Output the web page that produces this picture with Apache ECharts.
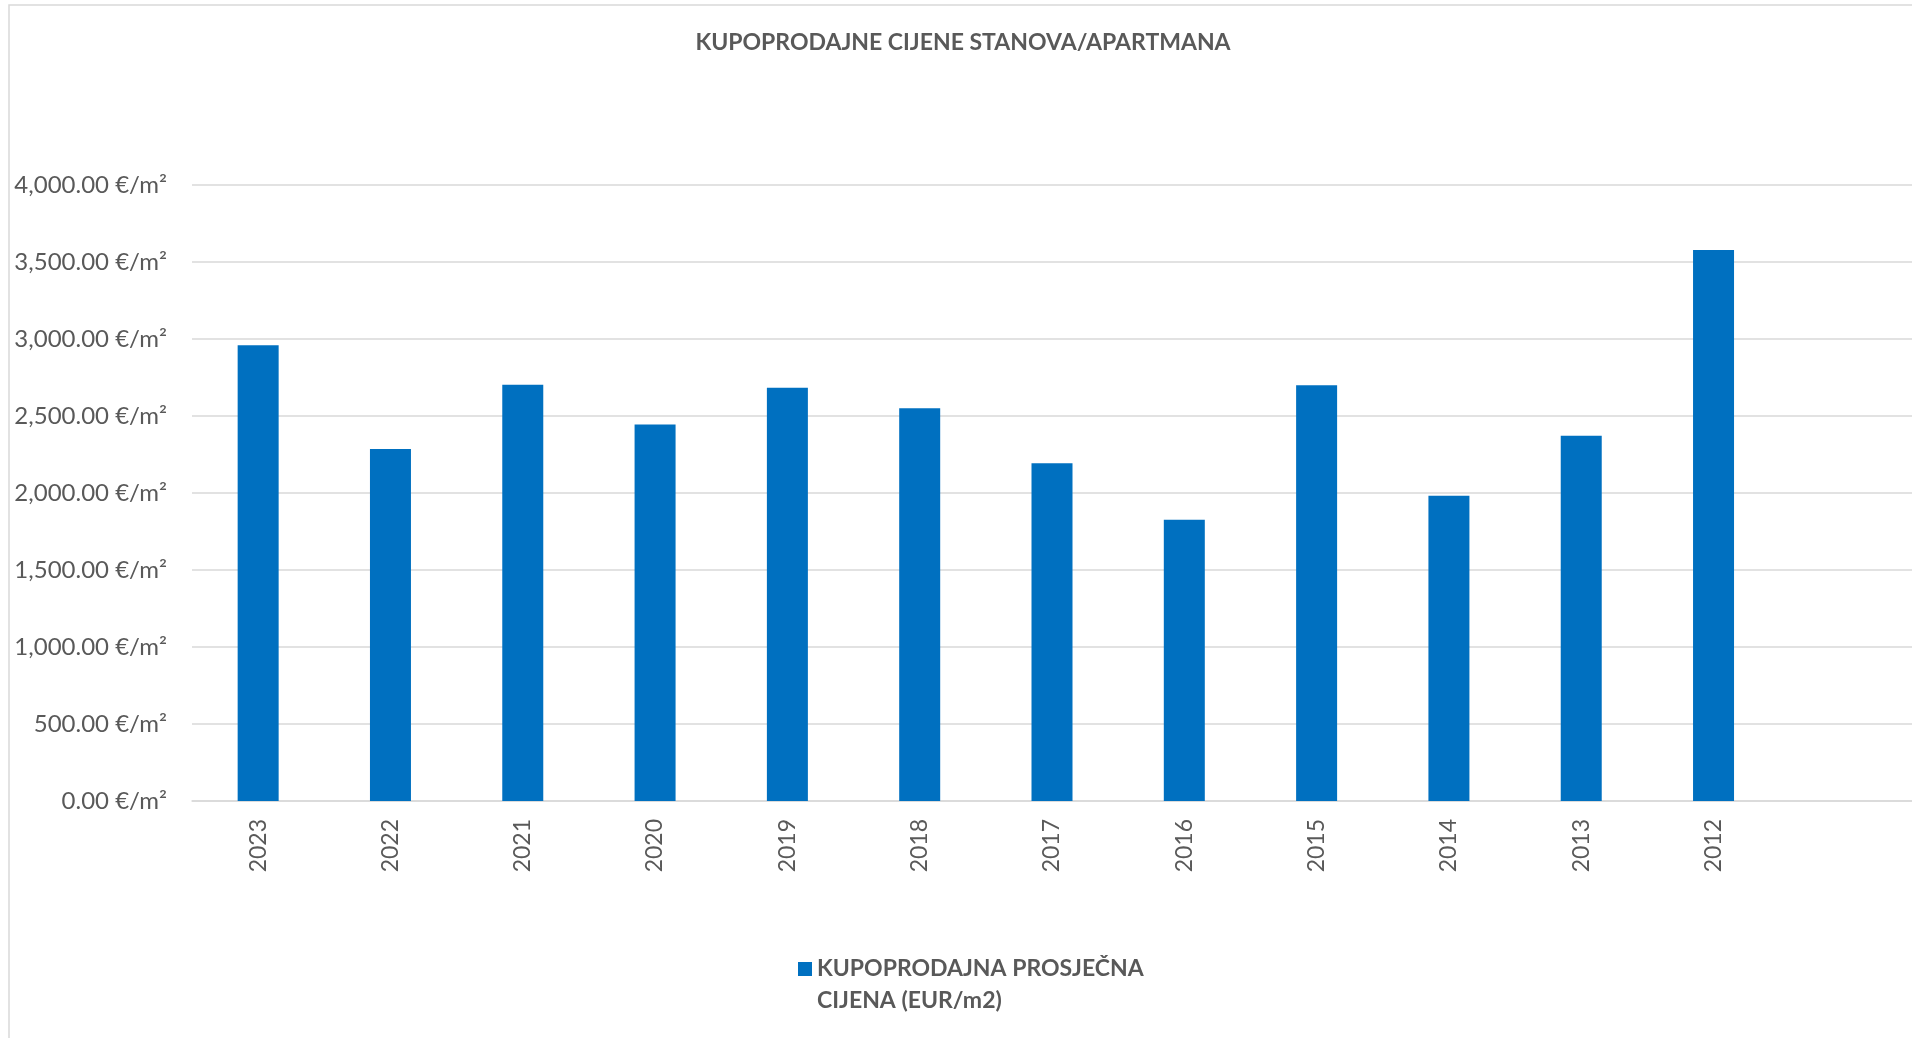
<!DOCTYPE html>
<html>
<head>
<meta charset="utf-8">
<title>Kupoprodajne cijene stanova/apartmana</title>
<script src="https://cdn.jsdelivr.net/npm/echarts@6/dist/echarts.min.js"></script>
<style>
  html, body { margin: 0; padding: 0; background: #fff; }
  #chart { width: 1912px; height: 1038px; }
</style>
</head>
<body>
<div id="chart"></div>
<script>
// podaci (ocitani sa slike)
var years = ['2023', '2022', '2021', '2020', '2019', '2018', '2017', '2016', '2015', '2014', '2013', '2012', ''];
var prices = [2960, 2285, 2703, 2444, 2684, 2550, 2193, 1827, 2699, 1982, 2372, 3578, null];
var seriesName = 'KUPOPRODAJNA PROSJEČNA CIJENA (EUR/m2)';
var titleText = 'KUPOPRODAJNE CIJENE STANOVA/APARTMANA';

var grey = '#595959';
var font = 'Lato';

function fmtPrice(v) {
	return v.toLocaleString('en-US', { minimumFractionDigits: 2, maximumFractionDigits: 2 }) + ' €/m²';
}

var myChart = echarts.init(document.getElementById('chart'));

var option = {
	backgroundColor: '#fff',
	animation: false,
	title: {
		text: titleText,
		left: 963,
		textAlign: 'center',
		top: 31,
		padding: 0,
		textStyle: { color: grey, fontFamily: font, fontWeight: 'bold', fontSize: 23 }
	},
	graphic: [{
		// okvir grafikona (desni i donji rub su odrezani)
		type: 'rect',
		shape: { x: 9, y: 5, width: 2000, height: 2000 },
		style: { fill: 'none', stroke: '#d9d9d9', lineWidth: 1.5 },
		silent: true
	}],
	legend: {
		data: [seriesName],
		left: 798,
		top: 921,
		padding: 0,
		itemWidth: 14,
		itemHeight: 14,
		icon: 'rect',
		formatter: function (name) {
			// prazan prvi red da ikona stoji uz prvi red teksta
			return '\nKUPOPRODAJNA PROSJEČNA\nCIJENA (EUR/m2)';
		},
		textStyle: {
			color: grey, fontFamily: font, fontWeight: 'bold', fontSize: 23,
			lineHeight: 32
		}
	},
	grid: {
		left: 192,
		top: 185,
		width: 1725,
		bottom: 237,
		containLabel: false
	},
	xAxis: {
		type: 'category',
		data: years,
		axisTick: { show: false },
		axisLine: { lineStyle: { color: '#d9d9d9', width: 1.5 } },
		axisLabel: {
			rotate: 90,
			margin: 18,
			color: grey,
			fontFamily: font,
			fontSize: 23,
			interval: 0
		}
	},
	yAxis: {
		type: 'value',
		min: 0,
		max: 4000,
		interval: 500,
		axisLine: { show: false },
		axisTick: { show: false },
		splitLine: { lineStyle: { color: '#d9d9d9', width: 1.5 } },
		axisLabel: {
			formatter: fmtPrice,
			margin: 25,
			color: grey,
			fontFamily: font,
			fontSize: 24
		}
	},
	series: [{
		name: seriesName,
		type: 'bar',
		data: prices,
		barWidth: 41,
		itemStyle: { color: '#0070c0' }
	}]
};

myChart.setOption(option);
</script>
</body>
</html>
